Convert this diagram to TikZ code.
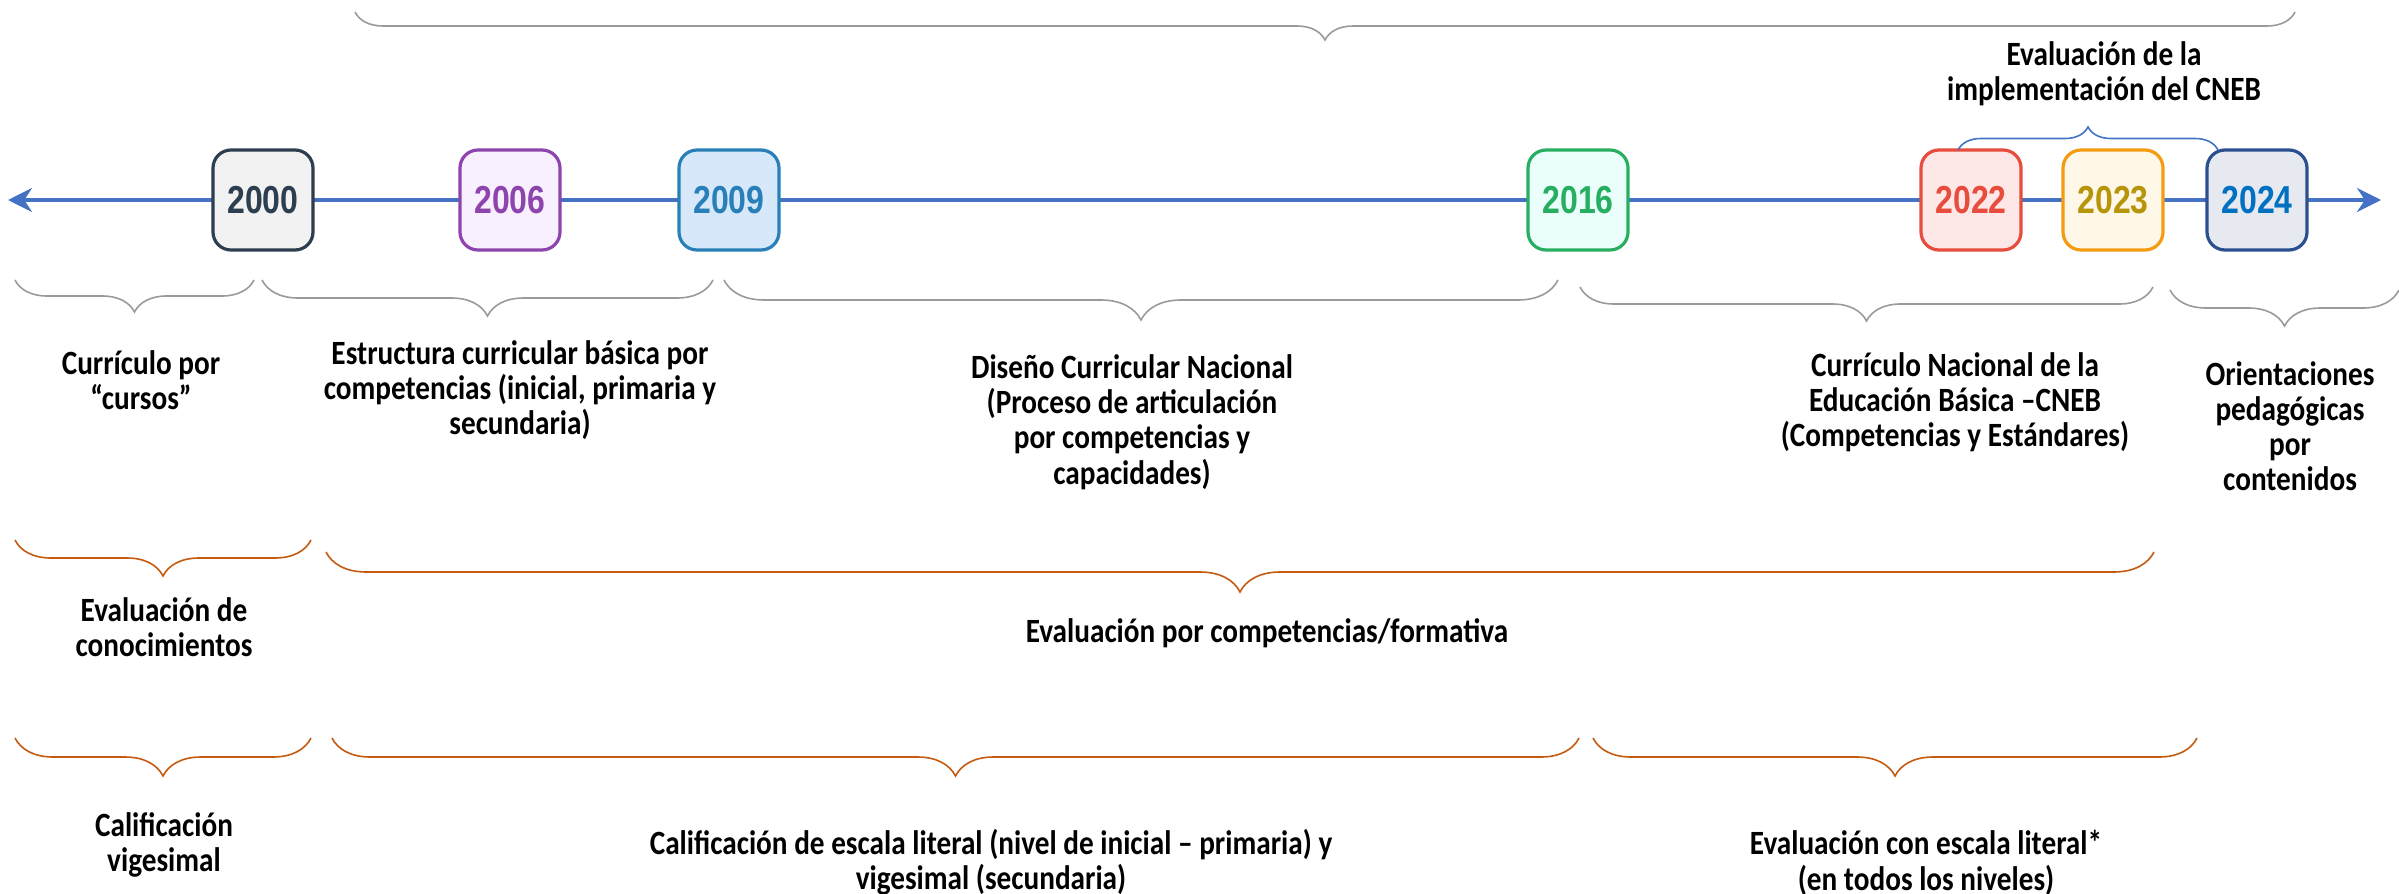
\documentclass[tikz,border=0pt]{standalone}
\usepackage{fontspec}
\usetikzlibrary{arrows.meta,decorations.pathreplacing}
\newfontfamily\lblfont{Carlito}[FakeStretch=0.86]
\newfontfamily\yrfont{Liberation Sans}[FakeStretch=0.82]
\definecolor{axisblue}{HTML}{4472C4}
\definecolor{bracegray}{HTML}{9A9A9A}
\definecolor{braceorange}{HTML}{C55A11}
\definecolor{cA}{HTML}{2C3E50}\definecolor{fA}{HTML}{F2F2F2}
\definecolor{cB}{HTML}{8E44AD}\definecolor{fB}{HTML}{F9F0FF}
\definecolor{cC}{HTML}{2980B9}\definecolor{fC}{HTML}{D6E8FA}
\definecolor{cD}{HTML}{27AE60}\definecolor{fD}{HTML}{EAFFFB}
\definecolor{cE}{HTML}{E74C3C}\definecolor{fE}{HTML}{FDE7E7}
\definecolor{cF}{HTML}{F39C12}\definecolor{fF}{HTML}{FFF8E8}\definecolor{tF}{HTML}{B7950B}
\definecolor{cG}{HTML}{2C4F8F}\definecolor{fG}{HTML}{E6E9F0}\definecolor{tG}{HTML}{0070C0}
\tikzset{
  yearbox/.style={draw, rounded corners=9pt, line width=1.6pt, minimum width=50pt, minimum height=50pt, inner sep=0pt,
    font=\yrfont\bfseries\fontsize{19.5}{22}\selectfont},
  lbl/.style={align=center, inner sep=0pt, font=\lblfont\bfseries\fontsize{17}{17.6}\selectfont},
  gbrace/.style={draw=bracegray, line width=0.8pt, decorate, decoration={brace, mirror, amplitude=#1}},
  obrace/.style={draw=braceorange, line width=0.8pt, decorate, decoration={brace, mirror, amplitude=#1}},
  bbrace/.style={draw=axisblue, line width=0.8pt, decorate, decoration={brace, amplitude=#1}},
}
\begin{document}
\begin{tikzpicture}[x=0.5pt, y=-0.5pt]
\useasboundingbox (0,0) rectangle (2399,894);
% axis
\coordinate (axL) at (8,200);
\coordinate (axR) at (2381,200);
\draw[axisblue, line width=2pt, {Stealth[length=12pt,width=12pt]}-{Stealth[length=12pt,width=12pt]}] (axL) -- (axR);
% year boxes
\node[yearbox, draw=cA, fill=fA, text=cA] (y2000) at (263,200) {2000};
\node[yearbox, draw=cB, fill=fB, text=cB] (y2006) at (510,200) {2006};
\node[yearbox, draw=cC, fill=fC, text=cC] (y2009) at (729,200) {2009};
\node[yearbox, draw=cD, fill=fD, text=cD] (y2016) at (1578,200) {2016};
\node[yearbox, draw=cE, fill=fE, text=cE] (y2022) at (1971,200) {2022};
\node[yearbox, draw=cF, fill=fF, text=tF] (y2023) at (2113,200) {2023};
\node[yearbox, draw=cG, fill=fG, text=tG] (y2024) at (2257,200) {2024};
% top brace
\coordinate (tA) at (355,12); \coordinate (tB) at (2295,12);
\draw[gbrace=14pt] (tA) -- (tB);
% blue brace
\coordinate (bA) at (1958,150); \coordinate (bB) at (2218,150);
\draw[bbrace=11.5pt] (bA) -- (bB);
\node[lbl] (impl) at (2104,74) {Evaluación de la\\implementación del CNEB};
% gray braces
\coordinate (g1a) at (15,280);   \coordinate (g1b) at (254,280);
\coordinate (g2a) at (262,280);  \coordinate (g2b) at (713,280);
\coordinate (g3a) at (724,280);  \coordinate (g3b) at (1558,280);
\coordinate (g4a) at (1580,287); \coordinate (g4b) at (2153,287);
\coordinate (g5a) at (2170,290); \coordinate (g5b) at (2399,290);
\draw[gbrace=16pt] (g1a) -- (g1b);
\draw[gbrace=18pt] (g2a) -- (g2b);
\draw[gbrace=20pt] (g3a) -- (g3b);
\draw[gbrace=17pt] (g4a) -- (g4b);
\draw[gbrace=18pt] (g5a) -- (g5b);
\node[lbl] (t1) at (141,380) {Currículo por\\“cursos”};
\node[lbl] (t2) at (520,390) {Estructura curricular básica por\\competencias (inicial, primaria y\\secundaria)};
\node[lbl] (t3) at (1132,422) {Diseño Curricular Nacional\\(Proceso de articulación\\por competencias y\\capacidades)};
\node[lbl] (t4) at (1955,402) {Currículo Nacional de la\\Educación Básica –CNEB\\(Competencias y Estándares)};
\node[lbl] (t5) at (2290,426) {Orientaciones\\pedagógicas\\por\\contenidos};
% orange braces row 1
\coordinate (o1a) at (15,540);  \coordinate (o1b) at (311,540);
\coordinate (o2a) at (326,552); \coordinate (o2b) at (2154,552);
\draw[obrace=18pt] (o1a) -- (o1b);
\draw[obrace=20pt] (o2a) -- (o2b);
\node[lbl] (e1) at (164,627) {Evaluación de\\conocimientos};
\node[lbl] (e2) at (1267,633) {Evaluación por competencias/formativa};
% orange braces row 2
\coordinate (p1a) at (15,738);   \coordinate (p1b) at (311,738);
\coordinate (p2a) at (332,738);  \coordinate (p2b) at (1579,738);
\coordinate (p3a) at (1593,738); \coordinate (p3b) at (2197,738);
\draw[obrace=19pt] (p1a) -- (p1b);
\draw[obrace=19pt] (p2a) -- (p2b);
\draw[obrace=19pt] (p3a) -- (p3b);
\node[lbl] (c1) at (164,845) {Calificación\\vigesimal};
\node[lbl] (c2) at (991,862) {Calificación de escala literal (nivel de inicial – primaria) y\\vigesimal (secundaria)};
\node[lbl] (c3) at (1926,863) {Evaluación con escala literal*\\(en todos los niveles)};
\end{tikzpicture}
\end{document}
